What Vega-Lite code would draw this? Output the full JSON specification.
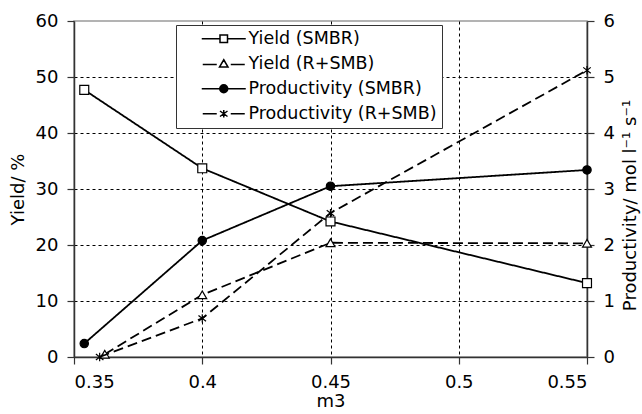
{
  "$schema": "https://vega.github.io/schema/vega-lite/v6.json",
  "width": 513,
  "height": 336,
  "autosize": {"type": "none"},
  "padding": {"left": 74, "top": 21, "right": 55, "bottom": 57},
  "background": "white",
  "config": {
    "view": {"stroke": "#9a9a9a", "strokeWidth": 1.5},
    "font": "DejaVu Sans",
    "axis": {
      "labelFont": "DejaVu Sans",
      "titleFont": "DejaVu Sans",
      "labelFontSize": 18,
      "titleFontSize": 18,
      "titleFontWeight": "normal",
      "labelColor": "black",
      "titleColor": "black",
      "domainColor": "#333",
      "tickColor": "#333",
      "domainWidth": 1.5,
      "tickWidth": 1.2,
      "tickSize": 7,
      "labelPadding": 9
    }
  },
  "data": {
    "values": [
      {"m3": 0.354, "value": 47.7, "series": "Yield (SMBR)"},
      {"m3": 0.4, "value": 33.7, "series": "Yield (SMBR)"},
      {"m3": 0.45, "value": 24.2, "series": "Yield (SMBR)"},
      {"m3": 0.55, "value": 13.2, "series": "Yield (SMBR)"},
      {"m3": 0.362, "value": 0.5, "series": "Yield (R+SMB)"},
      {"m3": 0.4, "value": 11.1, "series": "Yield (R+SMB)"},
      {"m3": 0.45, "value": 20.4, "series": "Yield (R+SMB)"},
      {"m3": 0.55, "value": 20.3, "series": "Yield (R+SMB)"},
      {"m3": 0.354, "value": 0.24, "series": "Productivity (SMBR)"},
      {"m3": 0.4, "value": 2.08, "series": "Productivity (SMBR)"},
      {"m3": 0.45, "value": 3.05, "series": "Productivity (SMBR)"},
      {"m3": 0.55, "value": 3.34, "series": "Productivity (SMBR)"},
      {"m3": 0.36, "value": 0, "series": "Productivity (R+SMB)"},
      {"m3": 0.4, "value": 0.69, "series": "Productivity (R+SMB)"},
      {"m3": 0.45, "value": 2.57, "series": "Productivity (R+SMB)"},
      {"m3": 0.55, "value": 5.12, "series": "Productivity (R+SMB)"}
    ]
  },
  "encoding": {
    "x": {
      "field": "m3",
      "type": "quantitative",
      "scale": {"domain": [0.35, 0.55], "nice": false, "zero": false},
      "axis": {
        "values": [0.35, 0.4, 0.45, 0.5, 0.55],
        "format": ".2~f",
        "title": "m3",
        "grid": true,
        "gridDash": [3, 3],
        "gridColor": "black",
        "gridWidth": 1,
        "gridOpacity": {"condition": {"test": "datum.value < 0.36 || datum.value > 0.54", "value": 0}, "value": 1},
        "titleBaseline": "middle",
        "titleY": 44
      }
    }
  },
  "layer": [
    {
      "transform": [{"filter": "indexof(datum.series, 'Yield') === 0"}],
      "encoding": {
        "y": {
          "field": "value",
          "type": "quantitative",
          "scale": {"domain": [0, 60], "nice": false},
          "axis": {
            "orient": "left",
            "values": [0, 10, 20, 30, 40, 50, 60],
            "title": "Yield/ %",
            "grid": true,
            "gridDash": [3, 3],
            "gridColor": "black",
            "gridWidth": 1,
            "gridOpacity": {"condition": {"test": "datum.value === 60", "value": 0}, "value": 1},
            "titleBaseline": "middle",
            "titleX": -56
          }
        }
      },
      "layer": [
        {
          "mark": {"type": "line", "color": "black", "strokeWidth": 1.8},
          "encoding": {
            "strokeDash": {
              "field": "series",
              "type": "nominal",
              "scale": {"domain": ["Yield (SMBR)", "Yield (R+SMB)"], "range": [[1, 0], [10, 5]]},
              "legend": null
            }
          }
        },
        {
          "mark": {"type": "point", "filled": true, "fill": "white", "stroke": "black", "strokeWidth": 1.2, "size": 80, "opacity": 1},
          "encoding": {
            "shape": {
              "field": "series",
              "type": "nominal",
              "scale": {"domain": ["Yield (SMBR)", "Yield (R+SMB)"], "range": ["square", "triangle-up"]},
              "legend": null
            }
          }
        }
      ]
    },
    {
      "transform": [{"filter": "indexof(datum.series, 'Productivity') === 0"}],
      "encoding": {
        "y": {
          "field": "value",
          "type": "quantitative",
          "scale": {"domain": [0, 6], "nice": false},
          "axis": {
            "orient": "right",
            "values": [0, 1, 2, 3, 4, 5, 6],
            "title": "Productivity/ mol l⁻¹ s⁻¹",
            "grid": false,
            "titleAngle": 270,
            "titleBaseline": "middle",
            "titleX": 43,
            "titleY": 184
          }
        }
      },
      "layer": [
        {
          "mark": {"type": "line", "color": "black", "strokeWidth": 1.8},
          "encoding": {
            "strokeDash": {
              "field": "series",
              "type": "nominal",
              "scale": {"domain": ["Productivity (SMBR)", "Productivity (R+SMB)"], "range": [[1, 0], [10, 5]]},
              "legend": null
            }
          }
        },
        {
          "mark": {"type": "point", "stroke": "black", "strokeWidth": 1.2, "size": 70, "opacity": 1},
          "encoding": {
            "shape": {
              "field": "series",
              "type": "nominal",
              "scale": {"domain": ["Productivity (SMBR)", "Productivity (R+SMB)"], "range": ["circle", "M0,-1L0,1M-0.9,-0.7L0.9,0.7M-0.9,0.7L0.9,-0.7"]},
              "legend": null
            },
            "fill": {
              "field": "series",
              "type": "nominal",
              "scale": {"domain": ["Productivity (SMBR)", "Productivity (R+SMB)"], "range": ["black", "transparent"]},
              "legend": null
            }
          }
        }
      ]
    },
    {
      "data": {"values": []},
      "mark": {"type": "point", "filled": false, "color": "black", "strokeWidth": 1.5, "opacity": 1},
      "encoding": {
        "shape": {
          "field": "series",
          "type": "nominal",
          "scale": {
            "domain": ["Yield (SMBR)", "Yield (R+SMB)", "Productivity (SMBR)", "Productivity (R+SMB)"],
            "range": [
              "M-4.4,0L-0.75,0M-0.75,-0.75L0.75,-0.75L0.75,0.75L-0.75,0.75ZM0.75,0L4.4,0",
              "M-4.2,0.15L-1.4,0.15M1.4,0.15L4.2,0.15M0,-0.8L0.85,0.65L-0.85,0.65Z",
              "M-4.4,0L4.4,0M-0.8,0A0.8,0.8,0,1,0,0.8,0A0.8,0.8,0,1,0,-0.8,0ZM-0.5,0A0.5,0.5,0,1,0,0.5,0A0.5,0.5,0,1,0,-0.5,0ZM-0.2,0A0.2,0.2,0,1,0,0.2,0A0.2,0.2,0,1,0,-0.2,0Z",
              "M-4.2,0L-1.4,0M1.4,0L4.2,0M0,-0.75L0,0.75M-0.75,-0.55L0.75,0.55M-0.75,0.55L0.75,-0.55"
            ]
          },
          "legend": {
            "orient": "none",
            "legendX": 102,
            "legendY": 4,
            "title": null,
            "padding": 5,
            "fillColor": "white",
            "strokeColor": "#333",
            "symbolSize": 100,
            "symbolStrokeWidth": 1.5,
            "symbolStrokeColor": "black",
            "symbolOffset": 34,
            "labelOffset": 16,
            "labelFont": "DejaVu Sans",
            "labelFontSize": 17.5,
            "labelColor": "black",
            "labelLimit": 400,
            "rowPadding": 6,
            "encode": {
              "symbols": {
                "update": {
                  "size": {"value": 100},
                  "stroke": {"value": "black"},
                  "strokeWidth": {"value": 1.5},
                  "strokeOpacity": {"value": 1},
                  "opacity": {"value": 1},
                  "fill": {"value": "transparent"}
                }
              }
            }
          }
        }
      }
    }
  ],
  "resolve": {
    "scale": {"y": "independent", "shape": "independent", "fill": "independent", "strokeDash": "independent"}
  }
}
